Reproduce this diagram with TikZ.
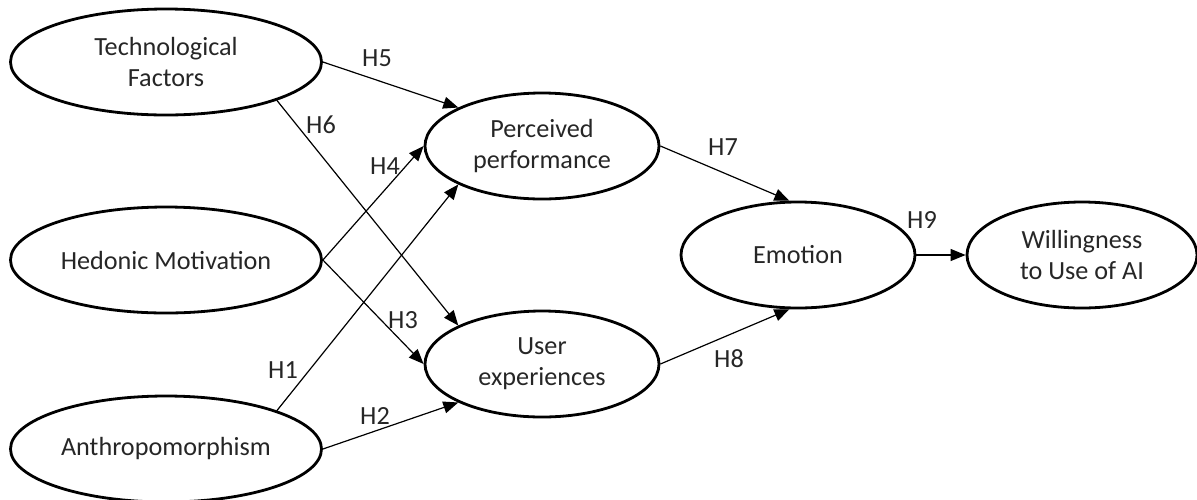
\documentclass[tikz,border=0pt]{standalone}
\usepackage{fontspec}
\setmainfont{Carlito}
\usetikzlibrary{arrows.meta, shapes.geometric}
\tikzset{
    x=0.5pt, y=-0.5pt, % one unit is one pixel of the original figure
    >={Triangle[length=7.5pt, width=6pt]}, % filled arrow heads
    every edge/.append style={->, line width=0.6pt}, % hypothesised paths
    construct/.style={ellipse, draw, line width=1.4pt, inner sep=0pt, align=center,
        text=black!85, font=\fontsize{13.1}{15.5}\selectfont}, % the latent variables
    wide/.style={minimum width=155.5pt, minimum height=53pt}, % the three on the left
    narrow/.style={minimum width=117pt, minimum height=53pt}, % the ones in the middle
    hyp/.style={inner sep=0pt, text=black!85, font=\fontsize{13.1}{15}\selectfont}, % path labels
}

\begin{document}
\begin{tikzpicture}
        \useasboundingbox (0,0) rectangle (1197,499);
        \node[construct, wide] (tf) at (166,62) {Technological\\Factors};
        \node[construct, wide] (hm) at (166,260) {Hedonic Motivation};
        \node[construct, wide] (an) at (166,449) {Anthropomorphism};
        \node[construct, narrow] (pp) at (542,146) {Perceived\\performance};
        \node[construct, narrow] (ue) at (542,364) {User\\experiences};
        \node[construct, narrow] (emo) at (798,255) {Emotion};
        \node[construct, minimum width=115pt, minimum height=53pt] (will) at (1082,255) {Willingness\\to Use of AI};

        \node[hyp] (h1) at (283,370) {H1};
        \node[hyp] (h2) at (375,416) {H2};
        \node[hyp] (h3) at (403,320) {H3};
        \node[hyp] (h4) at (385,166) {H4};
        \node[hyp] (h5) at (377,58) {H5};
        \node[hyp] (h6) at (321,125) {H6};
        \node[hyp] (h7) at (723,147) {H7};
        \node[hyp] (h8) at (729,359) {H8};
        \node[hyp] (h9) at (922,220) {H9};

        \path (tf.east) edge (pp.north west)
        (tf.south east) edge (ue.north west)
        (hm.east) edge (pp.west)
        (hm.east) edge (ue.west)
        (an.north east) edge (pp.south west)
        (an.east) edge (ue.south west)
        (pp.east) edge (emo.99)
        (ue.east) edge (emo.261)
        (emo.east) edge (will.west);
    \end{tikzpicture}
\end{document}
